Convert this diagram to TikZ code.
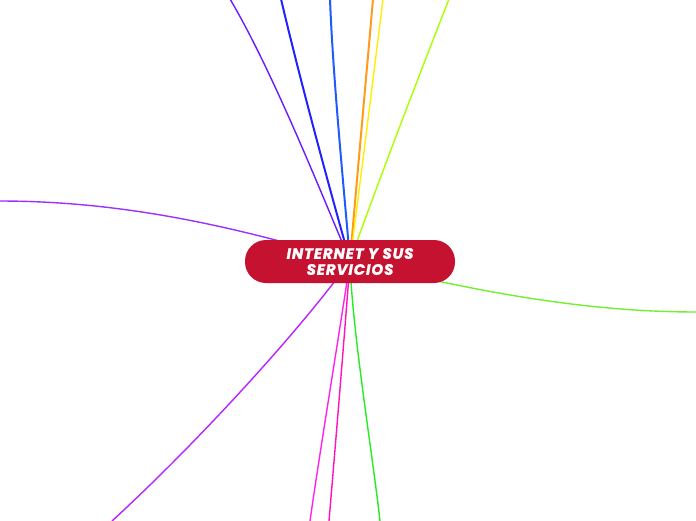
\documentclass[tikz,border=0pt]{standalone}
\usepackage{fontspec}
\newfontfamily\titlefont{Poppins}[LetterSpace=6,FakeBold=1.5]
\definecolor{crim}{HTML}{C41230}
\definecolor{cViolet}{HTML}{6A1BFF}
\definecolor{cBlue}{HTML}{2222FF}
\definecolor{cLBlue}{HTML}{1E5BFF}
\definecolor{cOrange}{HTML}{FF9A1A}
\definecolor{cYellow}{HTML}{FFEE00}
\definecolor{cYGreen}{HTML}{AAFF00}
\definecolor{cPurpL}{HTML}{9B30FF}
\definecolor{cGreenR}{HTML}{70F030}
\definecolor{cPurpB}{HTML}{BB22FF}
\definecolor{cMag}{HTML}{FF22EE}
\definecolor{cPink}{HTML}{FF11BB}
\definecolor{cGreenB}{HTML}{22EE22}
\tikzset{
  branch/.style={line width=1.4pt, line cap=round},
  thick branch/.style={line width=2pt, line cap=round},
  central/.style={fill=crim, rounded corners=21pt, minimum width=210pt, minimum height=43pt,
    text=white, align=center, inner sep=0pt, font=\titlefont\bfseries\itshape\fontsize{15}{16}\selectfont}
}
\begin{document}
\begin{tikzpicture}[x=1pt,y=-1pt]
\useasboundingbox (0,0) rectangle (696,520);
\coordinate (c) at (350,261);
\coordinate (e1) at (230,-1);
\coordinate (e2) at (281,-1);
\coordinate (e3) at (330,-1);
\coordinate (e4) at (373,-1);
\coordinate (e5) at (383,-1);
\coordinate (e6) at (449,-1);
\coordinate (e7) at (-1,201);
\coordinate (e8) at (697,312);
\coordinate (e9) at (112,521);
\coordinate (e10) at (310,521);
\coordinate (e11) at (329,521);
\coordinate (e12) at (380,521);
\draw[branch, cViolet] (c) .. controls (320,190) and (272,70) .. (e1);
\draw[thick branch, cBlue] (c) .. controls (330,190) and (300,80) .. (e2);
\draw[thick branch, cLBlue] (c) .. controls (345,200) and (333,80) .. (e3);
\draw[thick branch, cOrange] (c) .. controls (355,200) and (366,80) .. (e4);
\draw[branch, cYellow] (c) .. controls (358,200) and (373,80) .. (e5);
\draw[branch, cYGreen] (c) .. controls (375,190) and (425,60) .. (e6);
\draw[branch, cPurpL] (c) .. controls (230,225) and (120,201) .. (e7);
\draw[branch, cGreenR] (c) .. controls (470,290) and (580,312) .. (e8);
\draw[branch, cPurpB] (c) .. controls (300,330) and (200,440) .. (e9);
\draw[branch, cMag] (c) .. controls (340,330) and (320,450) .. (e10);
\draw[branch, cPink] (c) .. controls (345,330) and (335,450) .. (e11);
\draw[branch, cGreenB] (c) .. controls (352,330) and (372,450) .. (e12);
\node[central] (main) at (350,261.5) {INTERNET Y SUS\\SERVICIOS};
\end{tikzpicture}
\end{document}
